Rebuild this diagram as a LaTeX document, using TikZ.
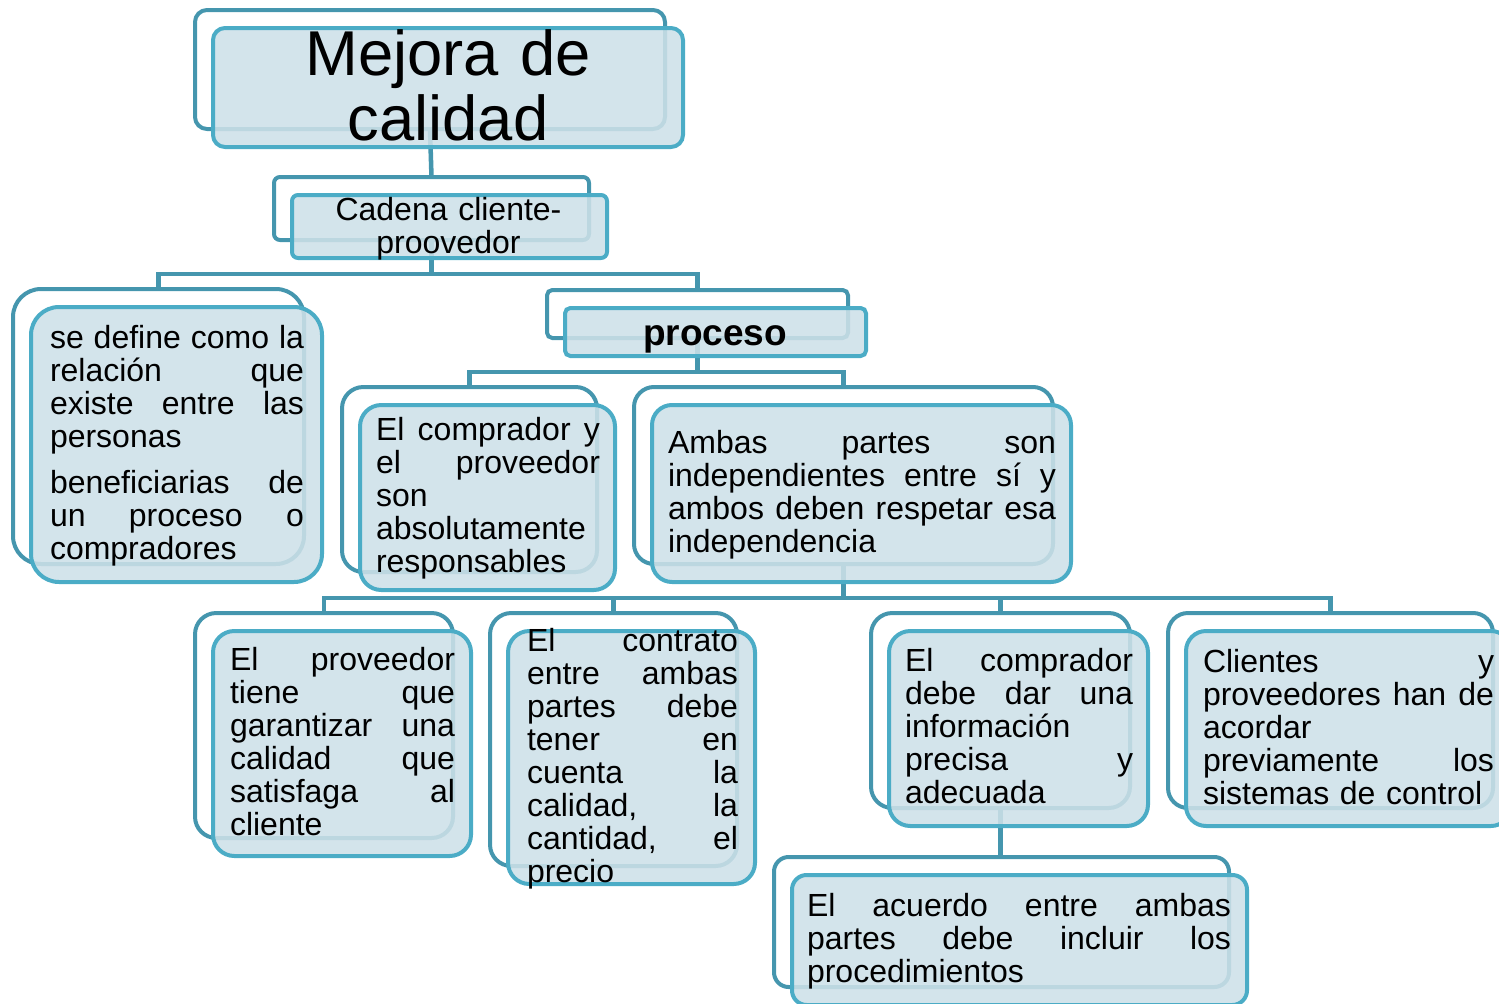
\documentclass[tikz,border=0pt]{standalone}
\usepackage{fontspec}
\setmainfont{Liberation Sans}
\usetikzlibrary{fit}
\definecolor{frontline}{HTML}{4BACC6}
\definecolor{backline}{HTML}{4596AE}
\definecolor{boxfill}{HTML}{CDE0E8}
\newlength\jw
\newcommand\jl[1]{\leavevmode\hbox to \jw{#1}}
\tikzset{
  backbox/.style={rectangle, draw=backline, line width=3pt, inner sep=0pt, outer sep=0pt},
  frontbox/.style={rectangle, draw=frontline, line width=3pt, fill=boxfill, fill opacity=0.88, inner sep=0pt, outer sep=0pt},
  conn/.style={draw=backline, line width=3.4pt},
  txt/.style={inner sep=0pt, outer sep=0pt, anchor=base west, align=left, text width=#1, execute at begin node={\setlength\jw{#1}}, font=\fontsize{24}{24.75}\selectfont},
  ctxt/.style={inner sep=0pt, outer sep=0pt, anchor=base, align=center},
}
\begin{document}
\begin{tikzpicture}[x=0.75pt, y=-0.75pt]
\useasboundingbox (0,0) rectangle (1499,1003);
\clip (0,0) rectangle (1499,1003);
% back frames
\node[backbox, rounded corners=9pt,  fit={(195,10) (665,129)}] (bM) {};
\node[backbox, rounded corners=4.5pt,fit={(274,177) (589,240)}] (bC) {};
\node[backbox, rounded corners=21pt, fit={(13,289) (304,564)}] (bS) {};
\node[backbox, rounded corners=4pt,  fit={(547,290) (848,338)}] (bP) {};
\node[backbox, rounded corners=16pt, fit={(342,387) (597,572)}] (bA1) {};
\node[backbox, rounded corners=15pt, fit={(634,387) (1053,564)}] (bA2) {};
\node[backbox, rounded corners=16pt, fit={(195,613) (453,838)}] (bB1) {};
\node[backbox, rounded corners=16pt, fit={(490,613) (737,866)}] (bB2) {};
\node[backbox, rounded corners=16pt, fit={(871,613) (1130,808)}] (bB3) {};
\node[backbox, rounded corners=15pt, fit={(1168,613) (1493,808)}] (bB4) {};
\node[backbox, rounded corners=11pt, fit={(774,857) (1229,987)}] (bD) {};
% connectors
\draw[conn] (bM.south) -- (bC.north);
\path (bC.south) ++(0,34) coordinate (j1);
\draw[conn] (bC.south) -- (j1);
\draw[conn] (j1) -| (bS.north);
\draw[conn] (j1) -| (bP.north);
\path (bP.south) ++(0,34) coordinate (j2);
\draw[conn] (bP.south) -- (j2);
\draw[conn] (j2) -| (bA1.north);
\draw[conn] (j2) -| (bA2.north);
\path (bA2.south) ++(0,34) coordinate (j3);
\draw[conn] (bA2.south) -- (j3);
\draw[conn] (j3) -| (bB1.north);
\draw[conn] (j3) -| (bB2.north);
\draw[conn] (j3) -| (bB3.north);
\draw[conn] (j3) -| (bB4.north);
\draw[conn] (bB3.south) -- (bB3.south |- bD.north);
% front boxes
\node[frontbox, rounded corners=9pt,  fit={(213,28) (683,147)}] (fM) {};
\node[frontbox, rounded corners=4.5pt,fit={(292,195) (607,258)}] (fC) {};
\node[frontbox, rounded corners=21pt, fit={(31,307) (322,582)}] (fS) {};
\node[frontbox, rounded corners=4pt,  fit={(565,308) (866,356)}] (fP) {};
\node[frontbox, rounded corners=16pt, fit={(360,405) (615,590)}] (fA1) {};
\node[frontbox, rounded corners=15pt, fit={(652,405) (1071,582)}] (fA2) {};
\node[frontbox, rounded corners=16pt, fit={(213,631) (471,856)}] (fB1) {};
\node[frontbox, rounded corners=16pt, fit={(508,631) (755,884)}] (fB2) {};
\node[frontbox, rounded corners=16pt, fit={(889,631) (1148,826)}] (fB3) {};
\node[frontbox, rounded corners=15pt, fit={(1186,631) (1511,826)}] (fB4) {};
\node[frontbox, rounded corners=11pt, fit={(792,875) (1247,1005)}] (fD) {};
% texts
\node[ctxt, text width=340pt, font=\fontsize{47.5}{48.75}\selectfont] (tM) at (448,75) {Mejora de\\calidad};
\node[ctxt, text width=230pt, font=\fontsize{24}{24.75}\selectfont] (tC) at (448.5,220) {Cadena cliente-\\proovedor};
\node[ctxt, text width=220pt, font=\fontsize{27.75}{30}\selectfont\bfseries] (tP) at (715,345) {proceso};
\node[txt=190.5pt] (tS) at (50,348) {\jl{se\hfil define\hfil como\hfil la}\\\jl{relación\hfil que}\\\jl{existe\hfil entre\hfil las}\\personas\\[9.75pt]\jl{beneficiarias\hfil de}\\\jl{un\hfil proceso\hfil o}\\compradores};
\node[txt=168pt] (tA1) at (376,440) {\jl{El\hfil comprador\hfil y}\\\jl{el\hfil proveedor}\\son\\absolutamente\\responsables};
\node[txt=291pt] (tA2) at (668,453) {\jl{Ambas\hfil partes\hfil son}\\\jl{independientes\hfil entre\hfil sí\hfil y}\\\jl{ambos\hfil deben\hfil respetar\hfil esa}\\independencia};
\node[txt=168.75pt] (tB1) at (230,670) {\jl{El\hfil proveedor}\\\jl{tiene\hfil que}\\\jl{garantizar\hfil una}\\\jl{calidad\hfil que}\\\jl{satisfaga\hfil al}\\cliente};
\node[txt=158.25pt] (tB2) at (527,651) {\jl{El\hfil contrato}\\\jl{entre\hfil ambas}\\\jl{partes\hfil debe}\\\jl{tener\hfil en}\\\jl{cuenta\hfil la}\\\jl{calidad,\hfil la}\\\jl{cantidad,\hfil el}\\precio};
\node[txt=171pt] (tB3) at (905,671) {\jl{El\hfil comprador}\\\jl{debe\hfil dar\hfil una}\\información\\\jl{precisa\hfil y}\\adecuada};
\node[txt=218.25pt] (tB4) at (1203,672) {\jl{Clientes\hfil y}\\\jl{proveedores\hfil han\hfil de}\\acordar\\\jl{previamente\hfil los}\\sistemas de control};
\node[txt=318pt] (tD) at (807,916) {\jl{El\hfil acuerdo\hfil entre\hfil ambas}\\\jl{partes\hfil debe\hfil incluir\hfil los}\\procedimientos};
\end{tikzpicture}
\end{document}
